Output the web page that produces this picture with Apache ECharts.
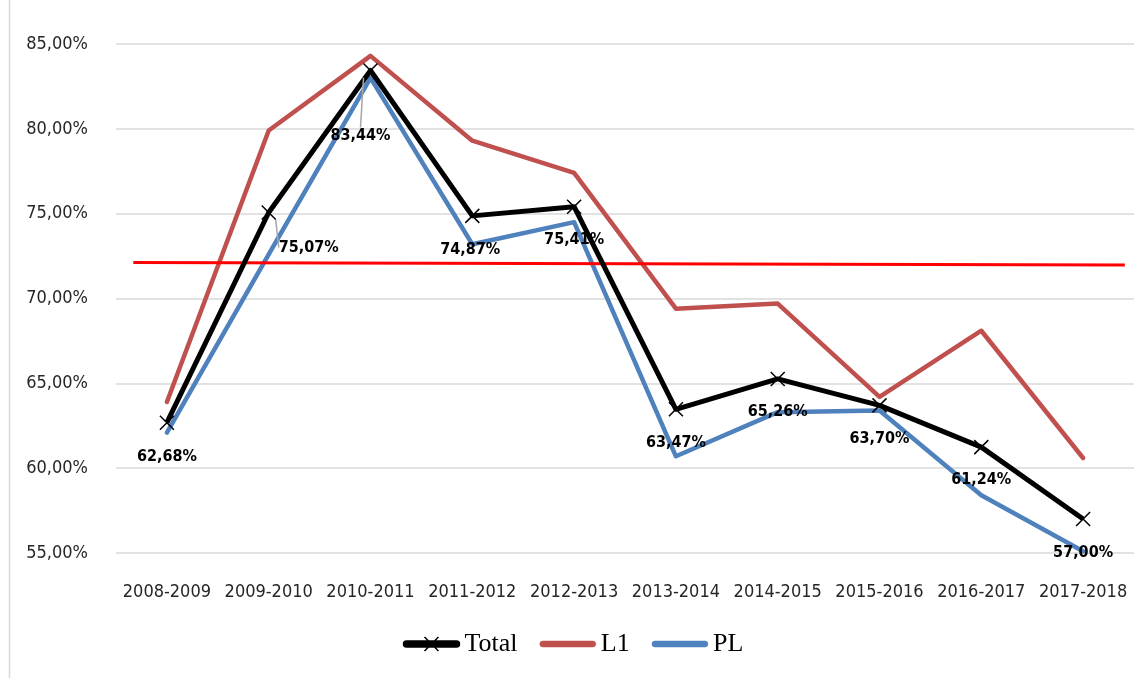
<!DOCTYPE html>
<html>
<head>
<meta charset="utf-8">
<script src="https://cdn.jsdelivr.net/npm/echarts@6/dist/echarts.min.js"></script>
<style>
  html, body { margin: 0; padding: 0; background: #fff; }
  #chart { width: 1146px; height: 678px; }
</style>
</head>
<body>
<div id="chart"></div>
<script>
const years = ['2008-2009', '2009-2010', '2010-2011', '2011-2012', '2012-2013',
               '2013-2014', '2014-2015', '2015-2016', '2016-2017', '2017-2018'];
const total = [62.68, 75.07, 83.44, 74.87, 75.41, 63.47, 65.26, 63.70, 61.24, 57.00];
const l1    = [63.9, 79.9, 84.3, 79.3, 77.4, 69.4, 69.7, 64.2, 68.1, 60.6];
const pl    = [62.1, 72.6, 83.0, 73.2, 74.5, 60.7, 63.3, 63.4, 58.4, 55.1];
// red reference line, [x position across the plot (0..1), value]
const refLine = [[0.017, 72.12], [0.991, 71.97]];
const yTicks = [55, 60, 65, 70, 75, 80, 85];

// label offsets from each Total point (px)
const labelShift = [[0, 34], [40, 35], [-10, 65], [-2, 34], [0, 33],
                    [0, 34], [0, 33], [0, 33], [0, 33], [0, 34]];
const withLeader = [1, 2];

const narrow = '"Liberation Sans Narrow", "DejaVu Sans Condensed", sans-serif';
const fmt = (v) => v.toFixed(2).replace('.', ',') + '%';

// legend icons: thick bar, plus a cross for Total
const barIcon   = 'path://M3 4L53 4A3 3 0 0 1 53 10L3 10A3 3 0 0 1 3 4Z M28 0L28.01 0M28 14L28.01 14';
const totalIcon = 'path://M3 4L53 4A3 3 0 0 1 53 10L3 10A3 3 0 0 1 3 4Z M21 0L35 14M35 0L21 14';

const chart = echarts.init(document.getElementById('chart'), null, { renderer: 'canvas' });

chart.setOption({
  backgroundColor: '#fff',
  animation: false,
  grid: { left: 116, right: 12, top: 44, bottom: 125 },
  graphic: [{
    type: 'line', silent: true,
    shape: { x1: 9.5, y1: 0, x2: 9.5, y2: 678 },
    style: { stroke: '#d9d9d9', lineWidth: 1.5 },
  }],
  legend: {
    bottom: 16, left: 'center',
    itemWidth: 56, itemHeight: 14, itemGap: 22,
    textStyle: { fontFamily: '"Liberation Serif", serif', fontSize: 26, color: '#000' },
    data: [
      { name: 'Total', icon: totalIcon, itemStyle: { color: '#000', borderColor: '#000', borderWidth: 1.5 } },
      { name: 'L1', icon: barIcon, itemStyle: { color: '#c0504d', borderColor: '#c0504d', borderWidth: 0.5 } },
      { name: 'PL', icon: barIcon, itemStyle: { color: '#4f81bd', borderColor: '#4f81bd', borderWidth: 0.5 } },
    ],
  },
  xAxis: [{
    type: 'category', data: years, boundaryGap: true,
    axisLine: { show: false }, axisTick: { show: false },
    axisLabel: { color: '#262626', fontSize: 18, fontFamily: narrow, margin: 30, interval: 0 },
    splitLine: { show: false },
  }, {
    type: 'value', min: 0, max: 1, show: false,
  }],
  yAxis: {
    type: 'value', min: 55, max: 85, interval: 5,
    axisLine: { show: false }, axisTick: { show: false },
    axisLabel: {
      color: '#262626', fontSize: 18, fontFamily: narrow, margin: 28,
      formatter: (v) => yTicks.includes(v) ? fmt(v) : '',
    },
    splitLine: { lineStyle: { color: '#d9d9d9', width: 1.5 } },
  },
  series: [{
    name: 'L1', type: 'line', data: l1,
    symbol: 'none', z: 2,
    lineStyle: { color: '#c0504d', width: 4.5, cap: 'round', join: 'round' },
    itemStyle: { color: '#c0504d' },
  }, {
    name: 'PL', type: 'line', data: pl,
    symbol: 'none', z: 3,
    lineStyle: { color: '#4f81bd', width: 4.5, cap: 'round', join: 'round' },
    itemStyle: { color: '#4f81bd' },
  }, {
    name: 'ref', type: 'line', data: refLine,
    xAxisIndex: 1, symbol: 'none', z: 4, silent: true,
    lineStyle: { color: '#ff0000', width: 3 },
  }, {
    name: 'Total', type: 'line', z: 5,
    data: total.map((v, i) => ({
      value: v,
      labelLine: { show: withLeader.includes(i) },
    })),
    symbol: 'path://M0 0L10 10M10 0L0 10', symbolSize: 14,
    lineStyle: { color: '#000', width: 5, join: 'round' },
    itemStyle: { color: '#000', borderColor: '#000', borderWidth: 1.5 },
    label: {
      show: true, position: 'inside',
      formatter: (p) => fmt(p.value),
      fontFamily: narrow, fontWeight: 'bold', fontSize: 16, color: '#000',
    },
    labelLine: { show: false, lineStyle: { color: '#a6a6a6', width: 1.5 } },
    labelLayout: (p) => ({ dx: labelShift[p.dataIndex][0], dy: labelShift[p.dataIndex][1] }),
  }],
});
</script>
</body>
</html>
